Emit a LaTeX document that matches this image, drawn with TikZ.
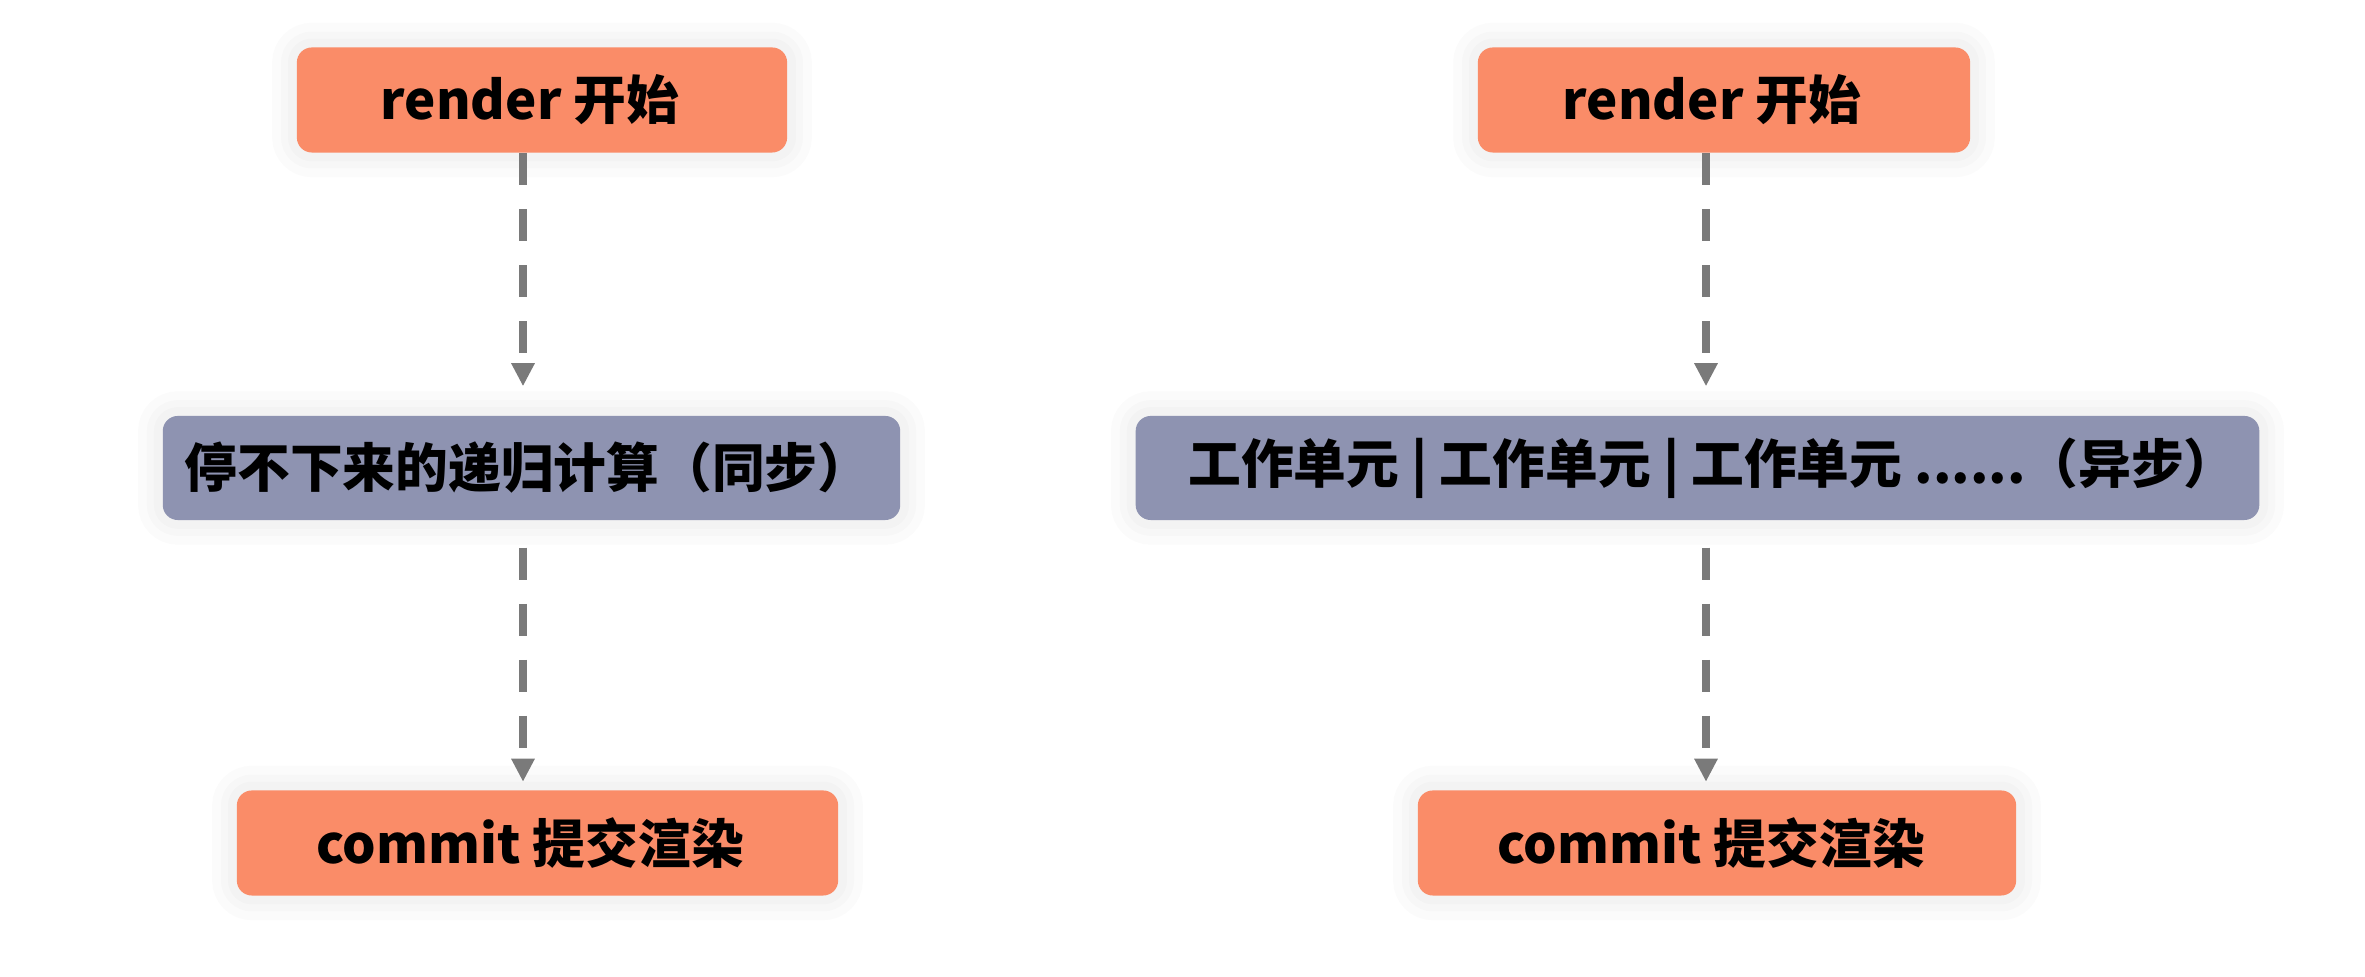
\documentclass[tikz,border=0pt]{standalone}
\usepackage{fontspec}
\setmainfont{Noto Sans CJK SC}
\usetikzlibrary{arrows.meta}
\definecolor{phaseorange}{HTML}{FA8C68}
\definecolor{workpurple}{HTML}{8E93B1}
\definecolor{flowgray}{HTML}{7A7A7A}
\begin{document}
\begin{tikzpicture}[x=0.01cm, y=-0.01cm,
    halo/.style={preaction={draw=black, draw opacity=0.014, line width=#1}},
    phasebox/.style={rectangle, rounded corners=0.15cm, fill=phaseorange, minimum height=1.05cm,
        font=\fontsize{15pt}{18pt}\selectfont\bfseries, inner sep=0pt,
        halo=14pt, halo=9pt, halo=5pt},
    workbox/.style={phasebox, fill=workpurple, minimum height=1.04cm},
    flowarrow/.style={draw=flowgray, line width=2.2pt, dash pattern=on 0.32cm off 0.24cm,
        -{Triangle[width=0.22cm, length=0.23cm]}}]
    %   Page with the reference margins
    \fill[white] (0,0) rectangle (2365,977);
    \useasboundingbox (0,0) rectangle (2365,977);
    %   Left column: synchronous recursion
    \node[phasebox, minimum width=4.9cm] (lstart) at (542,100) {render 开始\kern0.24cm};
    \node[workbox, minimum width=7.37cm] (lsync) at (531.5,468) {停不下来的递归计算（同步）\kern0.08cm};
    \node[phasebox, minimum width=6.01cm] (lcommit) at (537.5,843) {commit 提交渲染\kern0.15cm};
    %   Right column: asynchronous work units
    \node[phasebox, minimum width=4.92cm] (rstart) at (1724,100) {render 开始\kern0.24cm};
    \node[workbox, minimum width=11.23cm] (rasync) at (1697.5,468) {\kern0.3cm工作单元 | 工作单元 | 工作单元 ......（异步）};
    \node[phasebox, minimum width=5.98cm] (rcommit) at (1717,843) {commit 提交渲染\kern0.12cm};
    %   Axes of the dashed arrows
    \coordinate (laxis) at (523,0);
    \coordinate (raxis) at (1706,0);
    \draw[flowarrow, shorten >=0.29cm] (lstart.south -| laxis) -- (lsync.north -| laxis);
    \draw[flowarrow, shorten <=0.27cm, shorten >=0.08cm] (lsync.south -| laxis) -- (lcommit.north -| laxis);
    \draw[flowarrow, shorten >=0.29cm] (rstart.south -| raxis) -- (rasync.north -| raxis);
    \draw[flowarrow, shorten <=0.27cm, shorten >=0.08cm] (rasync.south -| raxis) -- (rcommit.north -| raxis);
\end{tikzpicture}
\end{document}
